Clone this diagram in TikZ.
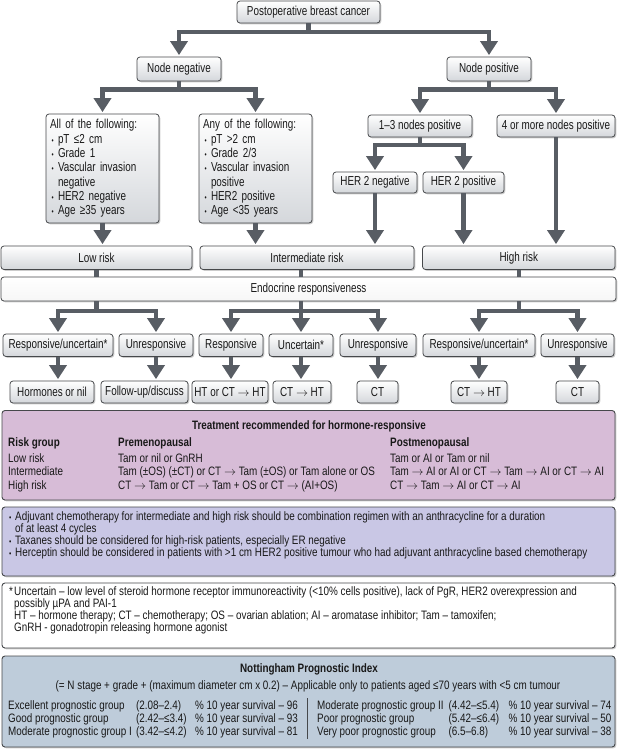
\documentclass[tikz,border=0pt]{standalone}
\usepackage{fontspec}
\setmainfont{Liberation Sans}[FakeStretch=0.76]
\newfontfamily\lowfam{Liberation Sans}[FakeStretch=0.81]
\usetikzlibrary{arrows.meta,shadows,calc}
\definecolor{argray}{RGB}{88,93,100}
\definecolor{bord}{RGB}{70,72,75}
\definecolor{boxbot}{RGB}{212,215,219}
\definecolor{purp}{RGB}{215,188,215}
\definecolor{lav}{RGB}{201,199,229}
\definecolor{nottc}{RGB}{190,204,218}
\definecolor{txt}{RGB}{25,25,25}
\newcommand{\flowfont}{\fontsize{13}{14.3}\selectfont}
\newcommand{\lowfont}{\lowfam\fontsize{12.2}{12}\selectfont}
\newcommand{\bl}{\makebox[8pt][l]{\hspace{1.5pt}{\fontsize{8}{8}\selectfont\textbullet}}}
\newcommand{\ra}{\ensuremath{\rightarrow}}
\begin{document}
\begin{tikzpicture}[x=1pt,y=1pt,text=txt,
  box/.style={draw=bord, line width=0.8pt, rounded corners=3pt, top color=white, bottom color=boxbot,
    drop shadow={shadow xshift=1.3pt, shadow yshift=-1.3pt, opacity=0.4}, inner sep=0pt, align=center, font=\flowfont},
  panel/.style={draw=bord, line width=0.9pt, rounded corners=3pt,
    drop shadow={shadow xshift=1.3pt, shadow yshift=-1.3pt, opacity=0.4}, inner sep=0pt, minimum width=613, },
  conn/.style={draw=argray, line width=4.5pt},
  arr/.style={conn, -{Triangle[width=17pt,length=14pt]}, shorten >=1.5pt},
  lt/.style={anchor=base west, inner sep=0pt, font=\lowfont},
  ltb/.style={lt, font=\lowfont\bfseries},
]
\useasboundingbox (0,0) rectangle (618,-750);

% ---------- flowchart boxes ----------
\node[box, minimum width=143, minimum height=22] (post) at (308.5,-12) {Postoperative breast cancer};
\node[box, minimum width=84, minimum height=24] (nneg) at (179,-69) {Node negative};
\node[box, minimum width=84, minimum height=24] (npos) at (489,-69) {Node positive};
\node[box, minimum width=113, minimum height=109, text width=105, align=left] (all) at (102.5,-168.5)
  {All of the following:\\ \bl pT ≤2 cm\\ \bl Grade 1\\ \bl Vascular invasion\\ \hspace*{8pt}negative\\ \bl HER2 negative\\ \bl Age ≥35 years};
\node[box, minimum width=113, minimum height=109, text width=105, align=left] (any) at (255.5,-168.5)
  {Any of the following:\\ \bl pT >2 cm\\ \bl Grade 2/3\\ \bl Vascular invasion\\ \hspace*{8pt}positive\\ \bl HER2 positive\\ \bl Age <35 years};
\node[box, minimum width=104, minimum height=22] (one3) at (420,-126) {1–3 nodes positive};
\node[box, minimum width=118, minimum height=22] (four) at (556,-126) {4 or more nodes positive};
\node[box, minimum width=84, minimum height=21] (hneg) at (375,-182.5) {HER 2 negative};
\node[box, minimum width=81, minimum height=21] (hpos) at (463.5,-182.5) {HER 2 positive};
\node[box, minimum width=191, minimum height=23.5] (low) at (96.5,-257.75) {Low risk};
\node[box, minimum width=214, minimum height=23.5] (inter) at (307,-257.75) {Intermediate risk};
\node[box, minimum width=192.5, minimum height=23.5] (high) at (518.75,-257.75) {High risk};
\node[box, minimum width=615, minimum height=24, bottom color=gray!7] (endo) at (308.5,-289) {Endocrine responsiveness};
% row 1
\node[box, minimum width=110, minimum height=22.5] (r1a) at (58,-345.25) {Responsive/uncertain*};
\node[box, minimum width=74, minimum height=22.5] (r1b) at (156,-345.25) {Unresponsive};
\node[box, minimum width=64, minimum height=22.5] (r1c) at (231,-345.25) {Responsive};
\node[box, minimum width=64, minimum height=22.5] (r1d) at (301,-345.25) {Uncertain*};
\node[box, minimum width=76, minimum height=22.5] (r1e) at (378,-345.25) {Unresponsive};
\node[box, minimum width=112, minimum height=22.5] (r1f) at (479,-345.25) {Responsive/uncertain*};
\node[box, minimum width=73, minimum height=22.5] (r1g) at (577.5,-345.25) {Unresponsive};
% row 2
\node[box, minimum width=84, minimum height=22] (horm) at (52,-392) {Hormones or nil};
\node[box, minimum width=87, minimum height=22] (foll) at (144.5,-392) {Follow-up/discuss};
\node[box, minimum width=76, minimum height=22] (htct) at (230,-392) {HT or CT \ra{} HT};
\node[box, minimum width=58, minimum height=22] (ctha) at (302,-392) {CT \ra{} HT};
\node[box, minimum width=41, minimum height=22] (cta) at (377.5,-392) {CT};
\node[box, minimum width=56, minimum height=22] (cthb) at (479,-392) {CT \ra{} HT};
\node[box, minimum width=43, minimum height=22] (ctb) at (577.5,-392) {CT};

% ---------- connectors ----------
\coordinate (y1) at (0,-32);
\coordinate (y2) at (0,-89.5);
\coordinate (y3) at (0,-145);
\coordinate (y4) at (0,-311);
\draw[arr] (post.south) -- (post.south |- y1) -| (nneg.north);
\draw[arr] (post.south) -- (post.south |- y1) -| (npos.north);
\draw[arr] (nneg.south) -- (nneg.south |- y2) -| (all.north);
\draw[arr] (nneg.south) -- (nneg.south |- y2) -| (any.north);
\draw[arr] (npos.south) -- (npos.south |- y2) -| (one3.north);
\draw[arr] (npos.south) -- (npos.south |- y2) -| (four.north);
\draw[arr] (one3.south) -- (one3.south |- y3) -| (hneg.north);
\draw[arr] (one3.south) -- (one3.south |- y3) -| (hpos.north);
\draw[arr] (all.south) -- (all.south |- low.north);
\draw[arr] (any.south) -- (any.south |- inter.north);
\draw[arr] (hneg.south) -- (hneg.south |- inter.north);
\draw[arr] (hpos.south) -- (hpos.south |- high.north);
\draw[arr] (four.south) -- (four.south |- high.north);
\draw[conn] (low.south) -- (low.south |- endo.north);
\draw[conn] (inter.south -| r1d.north) -- (r1d.north |- endo.north);
\draw[conn] (high.south) -- (high.south |- endo.north);
\draw[arr] (endo.south -| low.south) -- (low.south |- y4) -| (r1a.north);
\draw[arr] (endo.south -| low.south) -- (low.south |- y4) -| (r1b.north);
\draw[arr] (endo.south -| r1d.north) -- (r1d.north |- y4) -| (r1c.north);
\draw[arr] (endo.south -| r1d.north) -- (r1d.north);
\draw[arr] (endo.south -| r1d.north) -- (r1d.north |- y4) -| (r1e.north);
\draw[arr] (endo.south -| high.south) -- (high.south |- y4) -| (r1f.north);
\draw[arr] (endo.south -| high.south) -- (high.south |- y4) -| (r1g.north);
\draw[arr] (r1a.south) -- (r1a.south |- horm.north);
\draw[arr] (r1b.south) -- (r1b.south |- foll.north);
\draw[arr] (r1c.south) -- (r1c.south |- htct.north);
\draw[arr] (r1d.south) -- (r1d.south |- ctha.north);
\draw[arr] (r1e.south) -- (r1e.south |- cta.north);
\draw[arr] (r1f.south) -- (r1f.south |- cthb.north);
\draw[arr] (r1g.south) -- (r1g.south |- ctb.north);

% ---------- panels ----------
\node[panel, fill=purp, minimum height=89.5] (treat) at (308.5,-455.25) {};
\node[panel, fill=lav, minimum height=69] (bull) at (308.5,-541.5) {};
\node[panel, fill=white, minimum height=65] (foot) at (308.5,-615.5) {};
\node[panel, fill=nottc, minimum height=91] (npi) at (308.5,-701.5) {};

% treatment table
\node[ltb, anchor=base] (tt) at (309,-429) {Treatment recommended for hormone-responsive};
\node[ltb] (th1) at (8,-446) {Risk group};
\node[ltb] (th2) at (118,-446) {Premenopausal};
\node[ltb] (th3) at (390,-446) {Postmenopausal};
\node[lt] (ta1) at (8,-462) {Low risk};
\node[lt] (ta2) at (118,-462) {Tam or nil or GnRH};
\node[lt] (ta3) at (390,-462) {Tam or AI or Tam or nil};
\node[lt] (tb1) at (8,-475.5) {Intermediate};
\node[lt] (tb2) at (118,-475.5) {Tam (±OS) (±CT) or CT \ra{} Tam (±OS) or Tam alone or OS};
\node[lt] (tb3) at (390,-475.5) {Tam \ra{} AI or AI or CT \ra{} Tam \ra{} AI or CT \ra{} AI};
\node[lt] (tc1) at (8,-489) {High risk};
\node[lt] (tc2) at (118,-489) {CT \ra{} Tam or CT \ra{} Tam + OS or CT \ra{} (AI+OS)};
\node[lt] (tc3) at (390,-489) {CT \ra{} Tam \ra{} AI or CT \ra{} AI};

% bullets
\node[lt] (ba0) at (9,-520) {{\fontsize{8}{8}\selectfont\textbullet}};
\node[lt] (ba) at (15,-520) {Adjuvant chemotherapy for intermediate and high risk should be combination regimen with an anthracycline for a duration};
\node[lt] (bb) at (15,-532) {of at least 4 cycles};
\node[lt] (bc0) at (9,-544) {{\fontsize{8}{8}\selectfont\textbullet}};
\node[lt] (bc) at (15,-544) {Taxanes should be considered for high-risk patients, especially ER negative};
\node[lt] (bd0) at (9,-556) {{\fontsize{8}{8}\selectfont\textbullet}};
\node[lt] (bd) at (15,-556) {Herceptin should be considered in patients with >1 cm HER2 positive tumour who had adjuvant anthracycline based chemotherapy};

% footnote
\node[lt] (fa0) at (9,-595) {*};
\node[lt] (fa) at (14,-595) {Uncertain – low level of steroid hormone receptor immunoreactivity (<10\% cells positive), lack of PgR, HER2 overexpression and};
\node[lt] (fb) at (14,-607) {possibly µPA and PAI-1};
\node[lt] (fc) at (14,-619) {HT – hormone therapy; CT – chemotherapy; OS – ovarian ablation; AI – aromatase inhibitor; Tam – tamoxifen;};
\node[lt] (fd) at (14,-631) {GnRH - gonadotropin releasing hormone agonist};

% Nottingham
\node[ltb, anchor=base] (nt) at (309,-672) {Nottingham Prognostic Index};
\node[lt, anchor=base] (nf) at (308,-689) {(= N stage + grade + (maximum diameter cm x 0.2) – Applicable only to patients aged ≤70 years with <5 cm tumour};
\node[lt] (na1) at (8,-709) {Excellent prognostic group};
\node[lt] (na2) at (136,-709) {(2.08–2.4)};
\node[lt] (na3) at (195,-709) {\% 10 year survival – 96};
\node[lt] (nb1) at (8,-722) {Good prognostic group};
\node[lt] (nb2) at (136,-722) {(2.42–≤3.4)};
\node[lt] (nb3) at (195,-722) {\% 10 year survival – 93};
\node[lt] (nc1) at (8,-735) {Moderate prognostic group I};
\node[lt] (nc2) at (136,-735) {(3.42–≤4.2)};
\node[lt] (nc3) at (195,-735) {\% 10 year survival – 81};
\node[lt] (nd1) at (317,-709) {Moderate prognostic group II};
\node[lt] (nd2) at (448.5,-709) {(4.42–≤5.4)};
\node[lt] (nd3) at (508.5,-709) {\% 10 year survival – 74};
\node[lt] (ne1) at (317,-722) {Poor prognostic group};
\node[lt] (ne2) at (448.5,-722) {(5.42–≤6.4)};
\node[lt] (ne3) at (508.5,-722) {\% 10 year survival – 50};
\node[lt] (nf1) at (317,-735) {Very poor prognostic group};
\node[lt] (nf2) at (448.5,-735) {(6.5–6.8)};
\node[lt] (nf3) at (508.5,-735) {\% 10 year survival – 38};
\draw[bord, line width=0.7pt] (307,-698) -- (307,-739);
\end{tikzpicture}
\end{document}
